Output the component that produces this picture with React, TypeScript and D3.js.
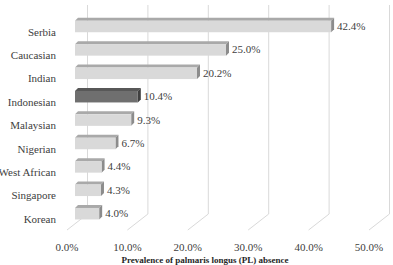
import React from "react";
import * as d3 from "d3";

const categories = [
  "Serbia",
  "Caucasian",
  "Indian",
  "Indonesian",
  "Malaysian",
  "Nigerian",
  "West African",
  "Singapore",
  "Korean",
];
const values = [0.424, 0.25, 0.202, 0.104, 0.093, 0.067, 0.044, 0.043, 0.04];
const highlighted = ["Indonesian"];
const ticks = [0, 0.1, 0.2, 0.3, 0.4, 0.5];
const axisTitle = "Prevalence of palmaris longus (PL) absence";

const width = 393;
const height = 265;

// 3D offsets (front plane -> back wall)
const depthX = 20.5;
const depthY = 16;
const floorY = 230;
const barShift = 8; // bars sit partway into the depth
const barDepth = 3;

export default function App() {
  const x = d3.scaleLinear().domain([0, 0.5]).range([67, 369]);
  const y = d3
    .scaleBand()
    .domain(categories)
    .range([21.3, 231.9])
    .paddingInner(0);

  const fmt = d3.format(".1%");
  const barH = 11.5;

  return (
    <svg
      width={width}
      height={height}
      style={{
        position: "absolute",
        left: 0,
        top: 0,
        background: "#fff",
        fontFamily: "Liberation Serif",
      }}
    >
      {/* back wall gridlines and floor lines */}
      {ticks.map((t) => (
        <g key={t} stroke="#d9d9d9" strokeWidth={1}>
          <line
            x1={x(t) + depthX}
            x2={x(t) + depthX}
            y1={5}
            y2={floorY - depthY}
          />
          <line
            x1={x(t)}
            y1={floorY}
            x2={x(t) + depthX}
            y2={floorY - depthY}
          />
        </g>
      ))}

      {/* bars */}
      {categories.map((c, i) => {
        const hi = highlighted.includes(c);
        const cy = y(c)! + y.bandwidth() / 2 - 6.5;
        const yt = cy - barH / 2;
        const yb = cy + barH / 2;
        const x0 = x(0) + barShift;
        const x1 = x(values[i]) + barShift;
        const front = hi ? "#6f6f6f" : "#d9d9d9";
        const top = hi ? "#575757" : "#a9a9a9";
        const side = hi ? "#404040" : "#8c8c8c";
        return (
          <g key={c}>
            <polygon
              points={`${x0},${yt} ${x1},${yt} ${x1 + barDepth},${yt - barDepth} ${x0 + barDepth},${yt - barDepth}`}
              fill={top}
            />
            <polygon
              points={`${x1},${yt} ${x1 + barDepth},${yt - barDepth} ${x1 + barDepth},${yb - barDepth} ${x1},${yb}`}
              fill={side}
            />
            <rect x={x0} y={yt} width={x1 - x0} height={barH} fill={front} />
            <text
              x={x1 + barDepth + 3}
              y={cy + 1}
              dominantBaseline="middle"
              fontSize={11}
              fill="#404040"
            >
              {fmt(values[i])}
            </text>
          </g>
        );
      })}

      {/* category labels */}
      {categories.map((c) => (
        <text
          key={c}
          x={56}
          y={y(c)! + y.bandwidth() / 2}
          textAnchor="end"
          dominantBaseline="middle"
          fontSize={11}
          fill="#404040"
        >
          {c}
        </text>
      ))}

      {/* tick labels */}
      {ticks.map((t) => (
        <text
          key={t}
          x={x(t)}
          y={248}
          textAnchor="middle"
          dominantBaseline="middle"
          fontSize={11}
          fill="#404040"
        >
          {fmt(t)}
        </text>
      ))}

      <text
        x={205}
        y={261}
        textAnchor="middle"
        dominantBaseline="middle"
        fontSize={9}
        fontWeight="bold"
        fill="#262626"
      >
        {axisTitle}
      </text>
    </svg>
  );
}
